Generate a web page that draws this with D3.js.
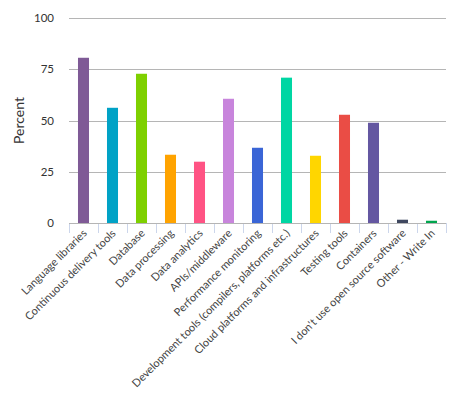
<!DOCTYPE html>
<html>
<head>
<meta charset="utf-8">
<script src="https://cdn.jsdelivr.net/npm/d3@7"></script>
<style>
  body { margin: 0; background: #fff; }
  text { font-family: Lato, "Open Sans", sans-serif; }
</style>
</head>
<body>
<div class="canvas"></div>
<script>
const categories = [
  "Language libraries", "Continuous delivery tools", "Database", "Data processing",
  "Data analytics", "APIs/middleware", "Performance monitoring",
  "Development tools (compilers, platforms etc.)", "Cloud platforms and infrastructures",
  "Testing tools", "Containers", "I don't use open source software", "Other - Write In"
];
const values = [80.6, 56.2, 72.8, 33.3, 29.9, 60.6, 36.7, 70.9, 32.8, 52.8, 48.9, 1.6, 1.1];
const colors = ["#7f5a96", "#00a2c6", "#7ed000", "#ffa300", "#ff5384", "#c885dc", "#3a65d6",
  "#00d6a3", "#ffd600", "#ea4d45", "#6457a1", "#3f475f", "#00a54e"];
const yTicks = [0, 25, 50, 75, 100];

const width = 455, height = 397;
const margin = { top: 18, right: 9, bottom: 174, left: 69 };
const graphWidth = width - margin.left - margin.right;
const graphHeight = height - margin.top - margin.bottom;

const svg = d3.select('.canvas').append('svg')
    .attr('width', width)
    .attr('height', height)

const graph = svg.append('g')
    .attr('transform', `translate(${margin.left}, ${margin.top})`)

const x = d3.scaleBand()
    .domain(categories)
    .range([0, graphWidth])
    .paddingInner(0.62)
    .paddingOuter(0.31)

const xTick = d3.scaleBand().domain(categories).range([0, graphWidth])

const y = d3.scaleLinear()
    .domain([0, 100])
    .range([graphHeight, 0])

// gridlines
graph.selectAll('line.grid')
    .data(yTicks)
    .enter()
    .append('line')
    .attr('class', 'grid')
    .attr('x1', 0)
    .attr('x2', graphWidth)
    .attr('y1', d => Math.round(y(d)) + 0.5)
    .attr('y2', d => Math.round(y(d)) + 0.5)
    .attr('stroke', '#b5b5b5')
    .attr('stroke-width', 1)

// y labels
graph.selectAll('text.ylab')
    .data(yTicks)
    .enter()
    .append('text')
    .attr('class', 'ylab')
    .attr('x', -15)
    .attr('y', d => y(d) + 4)
    .attr('text-anchor', 'end')
    .attr('font-size', 11.5)
    .attr('fill', '#333')
    .text(d => d)

// bars
graph.selectAll('rect')
    .data(values)
    .enter()
    .append('rect')
    .attr('x', (d, i) => x(categories[i]))
    .attr('width', x.bandwidth())
    .attr('y', d => y(d))
    .attr('height', d => graphHeight - y(d))
    .attr('fill', (d, i) => colors[i])

// x tick marks
const tickPos = categories.map(c => xTick(c)).concat([graphWidth])
graph.selectAll('line.xtick')
    .data(tickPos)
    .enter()
    .append('line')
    .attr('class', 'xtick')
    .attr('x1', d => Math.round(d) + 0.5)
    .attr('x2', d => Math.round(d) + 0.5)
    .attr('y1', graphHeight)
    .attr('y2', graphHeight + 10)
    .attr('stroke', '#ccd6eb')

graph.append('line')
    .attr('x1', 0)
    .attr('x2', graphWidth)
    .attr('y1', graphHeight + 0.5)
    .attr('y2', graphHeight + 0.5)
    .attr('stroke', '#b5b5b5')

// x labels
graph.selectAll('text.xlab')
    .data(categories)
    .enter()
    .append('text')
    .attr('class', 'xlab')
    .attr('text-anchor', 'end')
    .attr('font-size', 11)
    .attr('fill', '#444')
    .attr('transform', d => `translate(${xTick(d) + xTick.bandwidth() / 2 + 4}, ${graphHeight + 11}) rotate(-45)`)
    .text(d => d)

// y title
svg.append('text')
    .attr('transform', `translate(24, ${margin.top + graphHeight / 2}) rotate(-90)`)
    .attr('text-anchor', 'middle')
    .attr('font-size', 14)
    .attr('fill', '#333')
    .text('Percent')
</script>
</body>
</html>
